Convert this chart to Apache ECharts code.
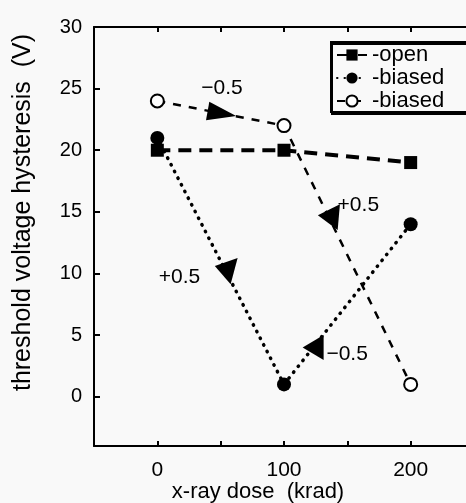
<!DOCTYPE html>
<html>
<head>
<meta charset="utf-8">
<script src="https://cdn.jsdelivr.net/npm/echarts@6/dist/echarts.min.js"></script>
<style>
html,body{margin:0;padding:0;background:#f9f9f9;}
#c{width:466px;height:503px;}
</style>
</head>
<body>
<div id="c"></div>
<script>
// ---- data ----
const doses = [0, 100, 200];
const openValues = [20, 20, 19];          // filled square, long dash
const biasedDotValues = [21, 1, 14];      // filled circle, dotted
const biasedDashValues = [24, 22, 1];     // open circle, dashed
const seriesNames = ['open', 'biasedDot', 'biasedDash'];
const legendTexts = ['-open', '-biased', '-biased'];
const yTickValues = [0, 5, 10, 15, 20, 25, 30];
const xLabelValues = [0, 100, 200];
// arrow annotations: which series, which segment, fraction along it, label
const arrowSeries = ['biasedDash', 'biasedDash', 'biasedDot', 'biasedDot'];
const arrowSegment = [0, 1, 0, 1];
const arrowFraction = [0.51, 0.35, 0.53, 0.23];
const arrowLabels = ['\u22120.5', '+0.5', '+0.5', '\u22120.5'];

const valuesByName = {open: openValues, biasedDot: biasedDotValues, biasedDash: biasedDashValues};
function pairs(vals){ return doses.map((d,i)=>[d, vals[i]]); }

// styles for arrows (not data)
const arrowRotate = [-100, 85, 75, 90];
const arrowSize = [[19,29],[26,21],[27,20],[25,21]];
const arrowLabelOffset = [[0,-25],[30,-11],[-45,9],[34,7]];

const arrowData = arrowSeries.map((s,i)=>{
  const v = valuesByName[s];
  const k = arrowSegment[i], t = arrowFraction[i];
  const x = doses[k] + (doses[k+1]-doses[k])*t;
  const y = v[k] + (v[k+1]-v[k])*t;
  return {
    value: [x, y],
    symbolRotate: arrowRotate[i],
    symbolSize: arrowSize[i],
    label: {show: true, formatter: arrowLabels[i], offset: arrowLabelOffset[i]}
  };
});

const font = 'Liberation Sans, Arial, Helvetica, sans-serif';
const chart = echarts.init(document.getElementById('c'), null, {renderer: 'canvas'});
chart.setOption({
  backgroundColor: '#f9f9f9',
  animation: false,
  textStyle: {fontFamily: font, color: '#000'},
  grid: {left: 94, right: -8, top: 27, bottom: 57, containLabel: false, outerBoundsMode: 'none'},
  xAxis: [{
    type: 'value', min: -50, max: 250, interval: 50,
    name: 'x-ray dose  (krad)', nameLocation: 'middle', nameGap: 35, nameMoveOverlap: false,
    nameTextStyle: {fontSize: 22, color: '#000', fontFamily: font, padding: [0,52,0,0]},
    axisLine: {onZero: false, lineStyle: {color: '#000', width: 2}},
    axisTick: {inside: true, length: 5, lineStyle: {color: '#000', width: 2}},
    axisLabel: {customValues: xLabelValues, fontSize: 21, color: '#000', margin: 14, fontFamily: font},
    splitLine: {show: false}
  }, {
    type: 'value', position: 'top', min: -50, max: 250, interval: 50,
    axisLine: {onZero: false, lineStyle: {color: '#000', width: 2}},
    axisTick: {inside: true, length: 5, lineStyle: {color: '#000', width: 2}},
    axisLabel: {show: false}, splitLine: {show: false}
  }],
  yAxis: {
    type: 'value', min: -4, max: 30,
    name: 'threshold voltage hysteresis  (V)', nameLocation: 'middle', nameGap: 58, nameMoveOverlap: false,
    nameTextStyle: {fontSize: 25, color: '#000', fontFamily: font, padding: [0,0,0,48]},
    axisLine: {onZero: false, lineStyle: {color: '#000', width: 2}},
    axisTick: {inside: true, length: 6, customValues: yTickValues, lineStyle: {color: '#000', width: 2}},
    axisLabel: {customValues: yTickValues, fontSize: 20, color: '#000', margin: 12, fontFamily: font},
    splitLine: {show: false}
  },
  legend: {
    left: 331, top: 42, orient: 'vertical',
    data: seriesNames,
    formatter: (n)=> legendTexts[seriesNames.indexOf(n)],
    itemWidth: 30, itemHeight: 14, itemGap: 1,
    padding: [2, 40, 0, 5],
    textStyle: {fontSize: 22, lineHeight: 21, color: '#000', fontFamily: font, padding: [0,0,0,0]},
    backgroundColor: '#f9f9f9', borderColor: '#000', borderWidth: 2,
    shadowColor: '#000', shadowOffsetX: 1, shadowOffsetY: 2, shadowBlur: 0
  },
  series: [{
    name: 'open', type: 'line', data: pairs(openValues),
    symbol: 'rect', symbolSize: 13,
    itemStyle: {color: '#000'},
    lineStyle: {color: '#000', width: 4, type: [13, 8]}
  }, {
    name: 'biasedDot', type: 'line', data: pairs(biasedDotValues),
    symbol: 'circle', symbolSize: 14,
    itemStyle: {color: '#000'},
    lineStyle: {color: '#000', width: 3.5, type: [0.5, 7], cap: 'round'}
  }, {
    name: 'biasedDash', type: 'line', data: pairs(biasedDashValues),
    symbol: 'emptyCircle', symbolSize: 13,
    itemStyle: {color: '#000', borderColor: '#000', borderWidth: 2},
    lineStyle: {color: '#000', width: 2.5, type: [8, 8]}
  }, {
    name: 'arrows', type: 'scatter', data: arrowData,
    symbol: 'triangle', z: 5,
    itemStyle: {color: '#000', opacity: 1},
    emphasis: {disabled: true},
    label: {position: 'inside', fontSize: 21, color: '#000', fontFamily: font}
  }]
});
</script>
</body>
</html>
